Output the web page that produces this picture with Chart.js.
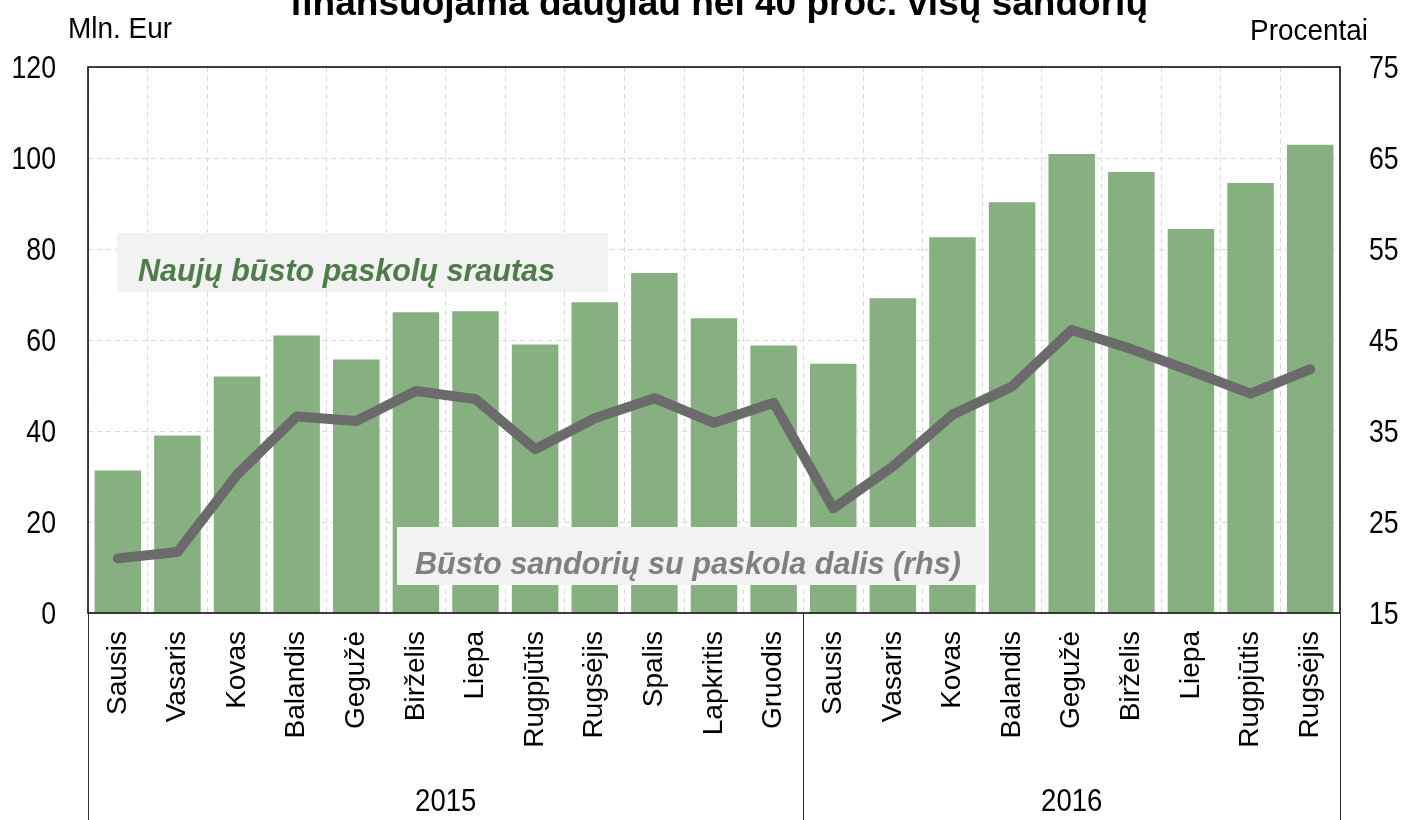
<!DOCTYPE html>
<html>
<head>
<meta charset="utf-8">
<script src="https://cdn.jsdelivr.net/npm/chart.js@4.4.1/dist/chart.umd.min.js"></script>
<style>
  body { margin: 0; background: #fff; }
  #wrap { width: 1408px; height: 820px; }
</style>
</head>
<body>
<div id="wrap"><canvas id="mainChart" width="1408" height="820"></canvas></div>
<script>
// ---- data ----
const months = ['Sausis', 'Vasaris', 'Kovas', 'Balandis', 'Gegužė', 'Birželis', 'Liepa', 'Rugpjūtis',
  'Rugsėjis', 'Spalis', 'Lapkritis', 'Gruodis',
  'Sausis', 'Vasaris', 'Kovas', 'Balandis', 'Gegužė', 'Birželis', 'Liepa', 'Rugpjūtis', 'Rugsėjis'];
const years = ['2015', '2016'];
const monthsPerYear = [12, 9];
// new housing loan flow, mln. Eur (lhs)
const loanFlow = [31.3, 39.0, 52.0, 61.0, 55.7, 66.1, 66.3, 59.0, 68.3, 74.7, 64.8, 58.8,
  54.8, 69.2, 82.6, 90.3, 100.9, 96.9, 84.4, 94.5, 102.9];
// share of housing deals with a loan, percent (rhs)
const loanShare = [21.0, 21.7, 30.2, 36.6, 36.1, 39.4, 38.5, 33.0, 36.4, 38.6, 35.9, 38.1,
  26.5, 31.1, 36.8, 39.9, 46.1, 44.0, 41.6, 39.1, 41.8];

const titleText = 'finansuojama daugiau nei 40 proc. visų sandorių';
const leftUnit = 'Mln. Eur';
const rightUnit = 'Procentai';
const barLabel = 'Naujų būsto paskolų srautas';
const lineLabel = 'Būsto sandorių su paskola dalis (rhs)';

const SANS = '"Liberation Sans", Arial, sans-serif';

// draw text squeezed/stretched to a given width
function fitText(ctx, text, x, y, w) {
  const m = ctx.measureText(text).width;
  ctx.save();
  ctx.translate(x, y);
  ctx.scale(w / m, 1);
  ctx.textAlign = 'left';
  ctx.fillText(text, 0, 0);
  ctx.restore();
}

// draw text with a horizontal squeeze factor
function narrowText(ctx, text, x, y, sx, align) {
  ctx.save();
  ctx.translate(x, y);
  ctx.scale(sx, 1);
  ctx.textAlign = align;
  ctx.fillText(text, 0, 0);
  ctx.restore();
}

// titles, annotation boxes, frame, y tick labels and year labels
const decorations = {
  id: 'decorations',
  afterDatasetsDraw(chart) {
    const ctx = chart.ctx;
    const area = chart.chartArea;
    const xs = chart.scales.x;

    // annotation boxes
    ctx.save();
    ctx.fillStyle = '#f2f2f2';
    ctx.fillRect(117, 233, 491, 59);
    ctx.fillRect(397, 527, 588, 58);
    ctx.textBaseline = 'alphabetic';
    ctx.font = 'italic bold 31px ' + SANS;
    ctx.fillStyle = '#4f7d4a';
    fitText(ctx, barLabel, 138, 281, 417);
    ctx.fillStyle = '#808080';
    fitText(ctx, lineLabel, 415, 574, 546);
    ctx.restore();

    // frame
    ctx.save();
    ctx.strokeStyle = '#000';
    ctx.lineWidth = 1.5;
    ctx.strokeRect(area.left, area.top, area.right - area.left, area.bottom - area.top);
    // group separators down to the bottom
    let start = 0;
    const edges = [area.left];
    monthsPerYear.forEach(n => {
      const end = start + n - 1;
      if (end < months.length - 1) {
        edges.push((xs.getPixelForValue(end) + xs.getPixelForValue(end + 1)) / 2);
      }
      start += n;
    });
    edges.push(area.right);
    ctx.lineWidth = 1;
    ctx.strokeStyle = '#333';
    edges.forEach(x => {
      ctx.beginPath();
      ctx.moveTo(Math.round(x) + 0.5, area.bottom);
      ctx.lineTo(Math.round(x) + 0.5, chart.height);
      ctx.stroke();
    });
    // year labels
    ctx.fillStyle = '#000';
    ctx.font = '32px ' + SANS;
    ctx.textBaseline = 'middle';
    years.forEach((yr, i) => {
      narrowText(ctx, yr, (edges[i] + edges[i + 1]) / 2, 802, 0.86, 'center');
    });

    // y tick labels (narrow look)
    ctx.font = '31px ' + SANS;
    chart.scales.y.ticks.forEach(t => {
      narrowText(ctx, String(t.value), 56, chart.scales.y.getPixelForValue(t.value) + 2, 0.86, 'right');
    });
    chart.scales.y1.ticks.forEach(t => {
      narrowText(ctx, String(t.value), 1369, chart.scales.y1.getPixelForValue(t.value) + 2, 0.86, 'left');
    });
    ctx.restore();

    // header texts
    ctx.save();
    ctx.fillStyle = '#000';
    ctx.textBaseline = 'alphabetic';
    ctx.font = 'bold 36px ' + SANS;
    fitText(ctx, titleText, 290, 15, 858);
    ctx.font = '29px ' + SANS;
    fitText(ctx, leftUnit, 68, 38, 104);
    fitText(ctx, rightUnit, 1250, 40, 118);
    ctx.restore();
  }
};

const ctxMain = document.getElementById('mainChart').getContext('2d');
new Chart(ctxMain, {
  type: 'bar',
  data: {
    labels: months,
    datasets: [
      {
        type: 'line',
        label: lineLabel,
        data: loanShare,
        yAxisID: 'y1',
        borderColor: '#6b6b6b',
        borderWidth: 10,
        borderCapStyle: 'round',
        borderJoinStyle: 'round',
        pointRadius: 0,
        tension: 0,
        order: 0
      },
      {
        label: barLabel,
        data: loanFlow,
        yAxisID: 'y',
        backgroundColor: '#86b080',
        categoryPercentage: 1,
        barPercentage: 0.78,
        order: 1
      }
    ]
  },
  options: {
    responsive: false,
    animation: false,
    layout: { padding: { top: 67, left: 0, right: 0, bottom: 0 } },
    plugins: { legend: { display: false }, tooltip: { enabled: false } },
    scales: {
      x: {
        grid: { color: '#d9d9d9', drawTicks: false, offset: true },
        border: { display: false, dash: [5, 4] },
        ticks: {
          autoSkip: false, minRotation: 90, maxRotation: 90, padding: 18,
          color: '#000', font: { family: SANS, size: 28 }
        },
        afterFit(scale) { scale.height = 207; }
      },
      y: {
        position: 'left',
        min: 0, max: 120,
        grid: { color: '#d9d9d9', drawTicks: false },
        border: { display: false, dash: [5, 4] },
        ticks: { stepSize: 20, display: false },
        afterFit(scale) { scale.width = 88; }
      },
      y1: {
        position: 'right',
        min: 15, max: 75,
        grid: { drawOnChartArea: false, drawTicks: false },
        border: { display: false },
        ticks: { stepSize: 10, display: false },
        afterFit(scale) { scale.width = 68; }
      }
    }
  },
  plugins: [decorations]
});
</script>
</body>
</html>
